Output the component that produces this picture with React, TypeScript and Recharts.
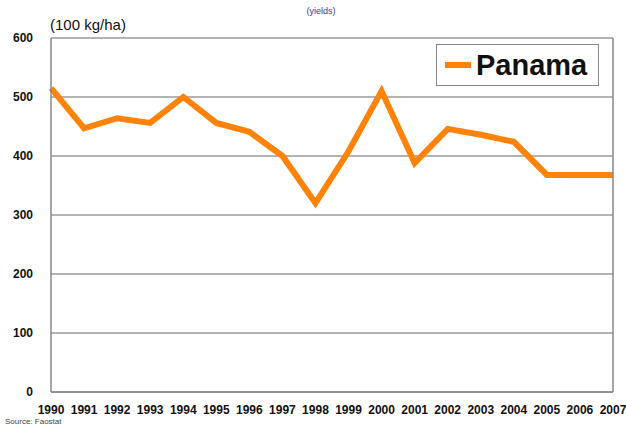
import React from "react";
import {
  LineChart,
  Line,
  XAxis,
  YAxis,
  CartesianGrid,
} from "recharts";

const years = [
  "1990", "1991", "1992", "1993", "1994", "1995", "1996", "1997", "1998",
  "1999", "2000", "2001", "2002", "2003", "2004", "2005", "2006", "2007",
];
const panama = [515, 447, 464, 456, 500, 456, 441, 400, 320, 408, 510, 388, 446, 436, 424, 368, 368, 368];
const yTicks = [0, 100, 200, 300, 400, 500, 600];

const data = years.map((year, i) => ({ year, Panama: panama[i] }));

const font = "Arial, 'Liberation Sans', Helvetica, sans-serif";

// legend drawn as an overlay so it does not eat plot space
const LegendBox = () => (
  <div
    style={{
      position: "absolute",
      left: 436,
      top: 44,
      width: 163,
      height: 42,
      border: "1px solid #888",
      background: "#fff",
      display: "flex",
      alignItems: "center",
      boxSizing: "border-box",
      fontFamily: font,
    }}
  >
    <div style={{ width: 26, height: 6, background: "#ff8209", marginLeft: 8, marginRight: 5 }} />
    <span style={{ fontSize: 29, fontWeight: "bold", color: "#111", lineHeight: 1 }}>Panama</span>
  </div>
);

export default function App() {
  return (
    <div style={{ position: "absolute", left: 0, top: 0, width: 626, height: 429, background: "#fff", fontFamily: font }}>
      <div style={{ position: "absolute", left: 0, width: 626, top: 6, textAlign: "center", fontSize: 9, color: "#3a3aa8", paddingLeft: 16, boxSizing: "border-box" }}>
        (yields)
      </div>
      <div style={{ position: "absolute", left: 50, top: 16, fontSize: 15, color: "#111" }}>(100 kg/ha)</div>
      <LineChart width={626} height={429} data={data} margin={{ top: 38, right: 12, left: 0, bottom: 0 }}>
        <CartesianGrid yAxisId="left" vertical={false} stroke="#9a9a9a" strokeWidth={1.5} />
        <XAxis
          dataKey="year"
          interval={0}
          height={37}
          axisLine={{ stroke: "#888", strokeWidth: 1.5 }}
          tickLine={false}
          tickMargin={7}
          tick={{ fontSize: 12, fontWeight: "bold", fill: "#111", fontFamily: font }}
        />
        <YAxis
          yAxisId="left"
          domain={[0, 600]}
          ticks={yTicks}
          width={51}
          axisLine={{ stroke: "#888", strokeWidth: 1.5 }}
          tickLine={false}
          tickMargin={12}
          tick={{ fontSize: 12, fontWeight: "bold", fill: "#111", fontFamily: font }}
        />
        <YAxis
          yAxisId="right"
          orientation="right"
          domain={[0, 600]}
          width={1}
          tick={false}
          axisLine={{ stroke: "#888", strokeWidth: 1.5 }}
          tickLine={false}
        />
        <Line
          yAxisId="left"
          type="linear"
          dataKey="Panama"
          stroke="#ff8209"
          strokeWidth={6}
          strokeLinejoin="miter"
          dot={false}
          isAnimationActive={false}
        />
      </LineChart>
      <LegendBox />
      <div style={{ position: "absolute", left: 5, top: 417, fontSize: 8, color: "#444" }}>Source: Faostat</div>
    </div>
  );
}
